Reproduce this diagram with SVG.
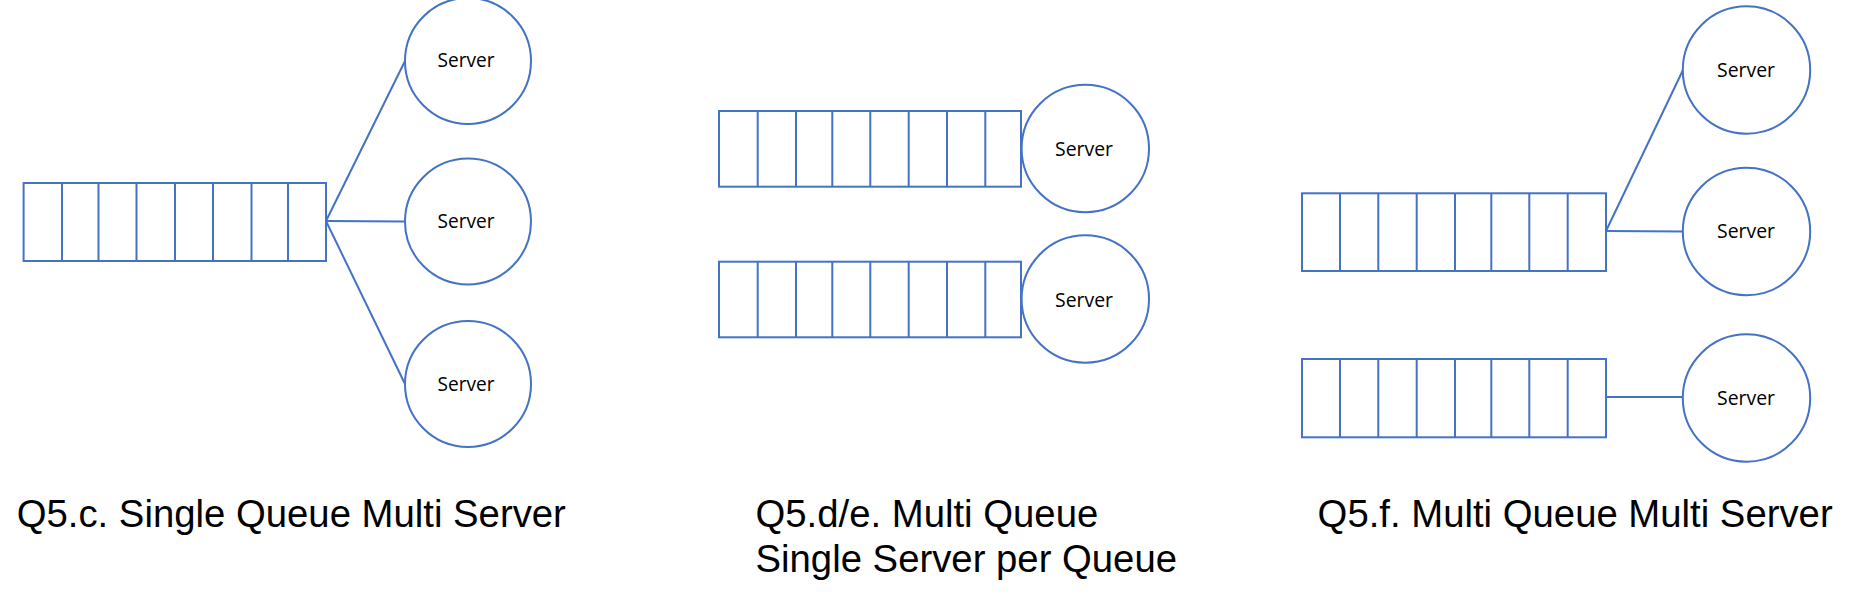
<svg xmlns="http://www.w3.org/2000/svg" width="1853" height="595" viewBox="0 0 1853 595">
<style>
.q{fill:#fff;stroke:#4472C4;stroke-width:2}
.d{stroke:#4472C4;stroke-width:2}
.s{fill:#fff;stroke:#4472C4;stroke-width:2}
.c{stroke:#4472C4;stroke-width:2;fill:none}
.st{font-family:"Open Sans","Noto Sans",sans-serif;font-size:20px;fill:#000;text-anchor:middle}
.t{font-family:"Liberation Sans",Arial,sans-serif;font-size:38.3px;fill:#000}
</style>
<rect width="1853" height="595" fill="#fff"/>
<g id="connectors">
<line class="c" x1="326" y1="221" x2="405" y2="61"/>
<line class="c" x1="326" y1="221" x2="405" y2="221.5"/>
<line class="c" x1="326" y1="221" x2="405" y2="384"/>
<line class="c" x1="1606" y1="231" x2="1683" y2="70"/>
<line class="c" x1="1606" y1="231" x2="1683" y2="231.5"/>
<line class="c" x1="1606" y1="397" x2="1683" y2="397"/>
</g>
<g id="queue1">
<rect class="q" x="23.6" y="183" width="302.4" height="78"/>
<path class="d" d="M62 183V261M98.5 183V261M136.5 183V261M175 183V261M213 183V261M251.5 183V261M288 183V261"/>
</g>
<g id="server1a"><circle class="s" cx="468" cy="61" r="63"/><text class="st" x="466" y="67" textLength="57" lengthAdjust="spacingAndGlyphs">Server</text></g>
<g id="server1b"><circle class="s" cx="468" cy="221.5" r="63"/><text class="st" x="466" y="228" textLength="57" lengthAdjust="spacingAndGlyphs">Server</text></g>
<g id="server1c"><circle class="s" cx="468" cy="384" r="63"/><text class="st" x="466" y="390.5" textLength="57" lengthAdjust="spacingAndGlyphs">Server</text></g>
<g id="queue2a">
<rect class="q" x="719" y="111" width="302" height="75.7"/>
<path class="d" d="M757.7 111V186.7M796 111V186.7M832.3 111V186.7M870.3 111V186.7M908.7 111V186.7M947 111V186.7M985.3 111V186.7"/>
</g>
<g id="queue2b">
<rect class="q" x="719" y="261.7" width="302" height="75.6"/>
<path class="d" d="M757.7 261.7V337.3M796 261.7V337.3M832.3 261.7V337.3M870.3 261.7V337.3M908.7 261.7V337.3M947 261.7V337.3M985.3 261.7V337.3"/>
</g>
<g id="server2a"><circle class="s" cx="1085.3" cy="148.5" r="63.7"/><text class="st" x="1084" y="156" textLength="58" lengthAdjust="spacingAndGlyphs">Server</text></g>
<g id="server2b"><circle class="s" cx="1085.3" cy="299" r="63.7"/><text class="st" x="1084" y="306.5" textLength="58" lengthAdjust="spacingAndGlyphs">Server</text></g>
<g id="queue3a">
<rect class="q" x="1302" y="193.3" width="304" height="77.7"/>
<path class="d" d="M1340 193.3V271M1378.3 193.3V271M1416.7 193.3V271M1455 193.3V271M1491.3 193.3V271M1529.3 193.3V271M1567.7 193.3V271"/>
</g>
<g id="queue3b">
<rect class="q" x="1302" y="359" width="304" height="78.3"/>
<path class="d" d="M1340 359V437.3M1378.3 359V437.3M1416.7 359V437.3M1455 359V437.3M1491.3 359V437.3M1529.3 359V437.3M1567.7 359V437.3"/>
</g>
<g id="server3a"><circle class="s" cx="1746.5" cy="70" r="63.7"/><text class="st" x="1746" y="76.5" textLength="58" lengthAdjust="spacingAndGlyphs">Server</text></g>
<g id="server3b"><circle class="s" cx="1746.5" cy="231.5" r="63.7"/><text class="st" x="1746" y="238" textLength="58" lengthAdjust="spacingAndGlyphs">Server</text></g>
<g id="server3c"><circle class="s" cx="1746.5" cy="398" r="63.7"/><text class="st" x="1746" y="404.5" textLength="58" lengthAdjust="spacingAndGlyphs">Server</text></g>
<g id="titles">
<text class="t" x="16.7" y="527.3">Q5.c. Single Queue Multi Server</text>
<text class="t" x="755.5" y="527.3">Q5.d/e. Multi Queue</text>
<text class="t" x="755.5" y="571.7">Single Server per Queue</text>
<text class="t" x="1317.6" y="527.3">Q5.f. Multi Queue Multi Server</text>
</g>
</svg>
